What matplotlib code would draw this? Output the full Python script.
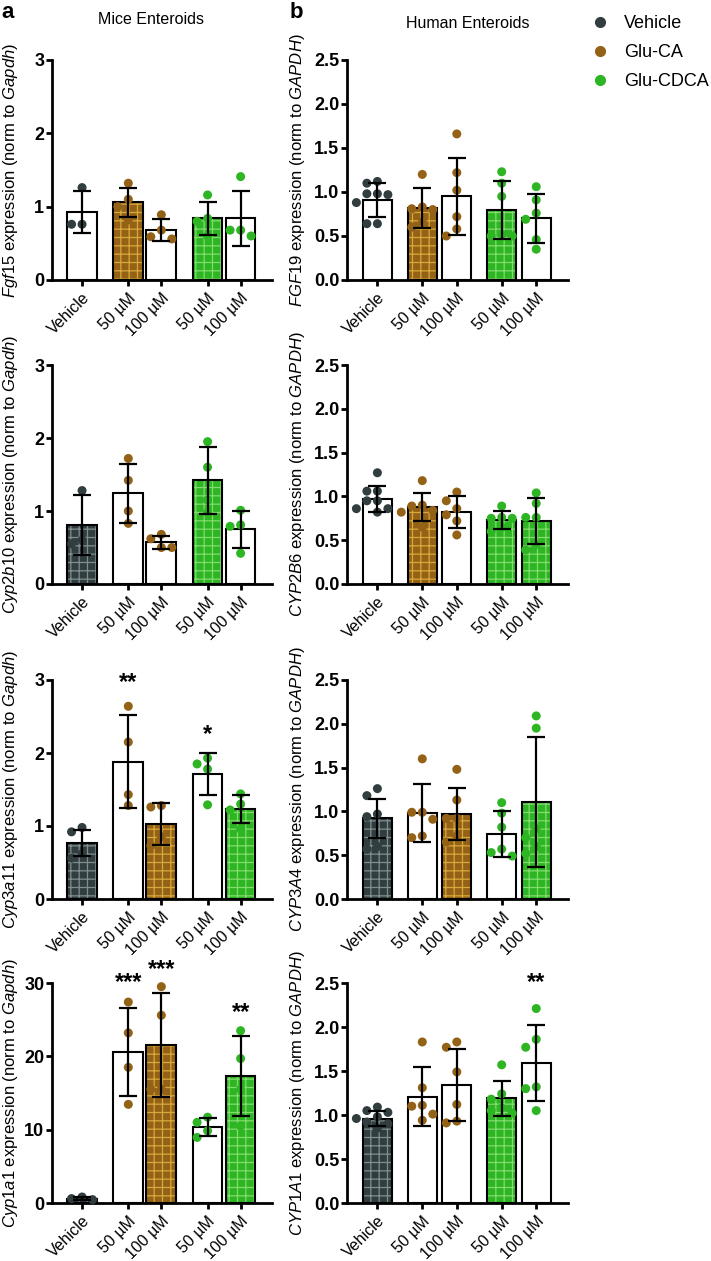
import matplotlib
matplotlib.use("Agg")
import matplotlib.pyplot as plt
from matplotlib.lines import Line2D
from matplotlib.ticker import FormatStrFormatter
import numpy as np

plt.rcParams['font.family'] = ['Liberation Sans', 'DejaVu Sans']
plt.rcParams['mathtext.fontset'] = 'custom'
plt.rcParams['mathtext.rm'] = 'Liberation Sans'
plt.rcParams['mathtext.it'] = 'Liberation Sans:italic'
plt.rcParams['hatch.linewidth'] = 0.9

# colours: point/bar colour and lighter grid colour for the hatched bars
colors = {'Vehicle': '#313d3f', 'Glu-CA': '#946217', 'Glu-CDCA': '#2db523'}
grid_colors = {'Vehicle': '#7f8e8e', 'Glu-CA': '#d9a83a', 'Glu-CDCA': '#82dc6e'}

tick_labels = ['Vehicle', '50 µM', '100 µM', '50 µM', '100 µM']
groups = ['Vehicle', 'Glu-CA', 'Glu-CA', 'Glu-CDCA', 'Glu-CDCA']

# ---- mice enteroids ----
fgf15_mean = [0.93, 1.06, 0.68, 0.84, 0.84]
fgf15_sd = [0.29, 0.20, 0.15, 0.22, 0.38]
fgf15_pts = [[1.26, 0.76, 0.76], [1.32, 1.10, 1.00, 0.82], [0.89, 0.68, 0.56, 0.59],
             [1.16, 0.84, 0.80, 0.60], [1.41, 0.68, 0.60, 0.68]]
fgf15_fill = [0, 1, 0, 1, 0]
fgf15_stars = ['', '', '', '', '']
fgf15_star_y = [0, 0, 0, 0, 0]

cyp2b10_mean = [0.81, 1.24, 0.57, 1.42, 0.75]
cyp2b10_sd = [0.41, 0.41, 0.09, 0.46, 0.25]
cyp2b10_pts = [[1.28, 0.60, 0.55], [1.72, 1.42, 1.00, 0.83], [0.62, 0.50, 0.68, 0.50],
               [1.95, 1.60, 1.15, 0.98], [1.01, 0.81, 0.79, 0.42]]
cyp2b10_fill = [1, 0, 0, 1, 0]
cyp2b10_stars = ['', '', '', '', '']
cyp2b10_star_y = [0, 0, 0, 0, 0]

cyp3a11_mean = [0.77, 1.88, 1.03, 1.71, 1.23]
cyp3a11_sd = [0.18, 0.64, 0.29, 0.29, 0.19]
cyp3a11_pts = [[0.98, 0.92, 0.62, 0.56], [2.64, 2.15, 1.43, 1.28], [1.26, 1.28, 0.85, 0.73],
               [1.93, 1.85, 1.78, 1.29], [1.44, 1.30, 1.22, 0.96]]
cyp3a11_fill = [1, 0, 1, 0, 1]
cyp3a11_stars = ['', '**', '', '*', '']
cyp3a11_star_y = [0, 2.97, 0, 2.26, 0]

cyp1a1_mean = [0.6, 20.6, 21.5, 10.35, 17.3]
cyp1a1_sd = [0.18, 6.0, 7.1, 1.2, 5.5]
cyp1a1_pts = [[0.46, 0.82, 0.60], [27.4, 23.2, 18.5, 13.45], [29.5, 25.6, 15.5, 15.5],
              [11.0, 11.7, 9.85, 8.94], [23.5, 19.7, 15.5, 10.5]]
cyp1a1_fill = [1, 0, 1, 0, 1]
cyp1a1_stars = ['', '***', '***', '', '**']
cyp1a1_star_y = [0, 30.0, 31.8, 0, 26.0]

# ---- human enteroids ----
fgf19_mean = [0.91, 0.82, 0.95, 0.80, 0.70]
fgf19_sd = [0.19, 0.23, 0.44, 0.33, 0.28]
fgf19_pts = [[1.12, 1.10, 0.98, 0.98, 0.97, 0.88, 0.64, 0.64],
             [1.20, 0.83, 0.81, 0.80, 0.60, 0.66],
             [1.66, 1.22, 1.02, 0.72, 0.58, 0.50],
             [1.23, 1.10, 0.95, 0.50, 0.50, 0.52],
             [1.06, 0.91, 0.76, 0.69, 0.46, 0.35]]
fgf19_fill = [0, 1, 0, 1, 0]
fgf19_stars = ['', '', '', '', '']
fgf19_star_y = [0, 0, 0, 0, 0]

cyp2b6_mean = [0.97, 0.88, 0.82, 0.73, 0.72]
cyp2b6_sd = [0.15, 0.16, 0.18, 0.10, 0.26]
cyp2b6_pts = [[1.27, 1.06, 1.06, 0.95, 0.95, 0.86, 0.86, 0.82],
              [1.18, 0.90, 0.89, 0.84, 0.82, 0.65],
              [1.05, 0.95, 0.86, 0.79, 0.72, 0.56],
              [0.89, 0.76, 0.75, 0.75, 0.65, 0.60],
              [1.04, 0.92, 0.76, 0.76, 0.45, 0.39]]
cyp2b6_fill = [0, 1, 0, 1, 1]
cyp2b6_stars = ['', '', '', '', '']
cyp2b6_star_y = [0, 0, 0, 0, 0]

cyp3a4_mean = [0.92, 0.98, 0.97, 0.74, 1.11]
cyp3a4_sd = [0.22, 0.33, 0.30, 0.26, 0.74]
cyp3a4_pts = [[1.26, 1.18, 0.97, 0.94, 0.60, 0.57],
              [1.60, 0.99, 0.99, 0.91, 0.72, 0.70],
              [1.48, 1.13, 0.92, 0.92, 0.72, 0.65],
              [1.10, 0.98, 0.82, 0.57, 0.49, 0.53],
              [2.09, 1.95, 0.80, 0.70, 0.60, 0.52]]
cyp3a4_fill = [1, 0, 1, 0, 1]
cyp3a4_stars = ['', '', '', '', '']
cyp3a4_star_y = [0, 0, 0, 0, 0]

cyp1a1h_mean = [0.96, 1.21, 1.34, 1.19, 1.59]
cyp1a1h_sd = [0.08, 0.33, 0.41, 0.20, 0.43]
cyp1a1h_pts = [[1.09, 1.05, 1.03, 0.98, 0.96, 0.92, 0.90, 0.85],
               [1.83, 1.31, 1.11, 1.10, 1.01, 0.94],
               [1.83, 1.77, 1.49, 1.12, 0.93, 0.91],
               [1.57, 1.24, 1.18, 1.08, 1.05, 1.02],
               [2.21, 1.86, 1.77, 1.32, 1.30, 1.05]]
cyp1a1h_fill = [1, 0, 0, 1, 0]
cyp1a1h_stars = ['', '', '', '', '**']
cyp1a1h_star_y = [0, 0, 0, 0, 2.51]

left_panels = [
    ('Fgf15', fgf15_mean, fgf15_sd, fgf15_pts, fgf15_fill, fgf15_stars, fgf15_star_y),
    ('Cyp2b10', cyp2b10_mean, cyp2b10_sd, cyp2b10_pts, cyp2b10_fill, cyp2b10_stars, cyp2b10_star_y),
    ('Cyp3a11', cyp3a11_mean, cyp3a11_sd, cyp3a11_pts, cyp3a11_fill, cyp3a11_stars, cyp3a11_star_y),
    ('Cyp1a1', cyp1a1_mean, cyp1a1_sd, cyp1a1_pts, cyp1a1_fill, cyp1a1_stars, cyp1a1_star_y),
]
right_panels = [
    ('FGF19', fgf19_mean, fgf19_sd, fgf19_pts, fgf19_fill, fgf19_stars, fgf19_star_y),
    ('CYP2B6', cyp2b6_mean, cyp2b6_sd, cyp2b6_pts, cyp2b6_fill, cyp2b6_stars, cyp2b6_star_y),
    ('CYP3A4', cyp3a4_mean, cyp3a4_sd, cyp3a4_pts, cyp3a4_fill, cyp3a4_stars, cyp3a4_star_y),
    ('CYP1A1', cyp1a1h_mean, cyp1a1h_sd, cyp1a1h_pts, cyp1a1h_fill, cyp1a1h_stars, cyp1a1h_star_y),
]

W, H = 711, 1261
fig = plt.figure(figsize=(W / 100, H / 100), dpi=100)

row_top = [60, 365, 680, 983]
row_bot = [280, 584, 899, 1203]


def swarm_x(ax, xc, vals, diam=9.0, step=10.5):
    """spread overlapping points sideways, like Prism does"""
    fwd = ax.transData.transform
    inv = ax.transData.inverted().transform
    placed = []
    out = {}
    order = np.argsort(vals)[::-1]
    for i in order:
        x0, y0 = fwd((xc, vals[i]))
        for k in [0, -1, 1, -2, 2, -3, 3]:
            xp = x0 + k * step
            if all((xp - a) ** 2 + (y0 - b) ** 2 >= diam ** 2 for a, b in placed):
                break
        placed.append((xp, y0))
        out[i] = inv((xp, y0))[0]
    return [out[i] for i in range(len(vals))]


def draw_panel(ax, gene, ref, mean, sd, pts, fill, stars, star_y, xpos, width, ylim, yticks, fmt):
    ax.set_xlim(xpos[0] - width / 2 - 0.46, xpos[-1] + width / 2 + 0.5)
    ax.set_ylim(*ylim)
    for i in range(5):
        g = groups[i]
        if fill[i]:
            ax.bar(xpos[i], mean[i], width, color=colors[g], edgecolor=grid_colors[g],
                   linewidth=0, hatch='++', zorder=1)
            ax.bar(xpos[i], mean[i], width, facecolor='none', edgecolor='black',
                   linewidth=1.5, zorder=2)
        else:
            ax.bar(xpos[i], mean[i], width, facecolor='white', edgecolor='black',
                   linewidth=1.5, zorder=2)
        xs = swarm_x(ax, xpos[i], pts[i])
        ax.scatter(xs, pts[i], s=42, color=colors[g], edgecolors='none', zorder=3,
                   clip_on=False)
        ax.errorbar(xpos[i], mean[i], yerr=sd[i], fmt='none', ecolor='black',
                    elinewidth=1.6, capsize=6.5, capthick=1.6, zorder=4)
        if stars[i]:
            ax.text(xpos[i], star_y[i], stars[i], ha='center', va='center',
                    fontsize=17, fontweight='bold', clip_on=False)
    ax.spines['top'].set_visible(False)
    ax.spines['right'].set_visible(False)
    ax.spines['left'].set_linewidth(2)
    ax.spines['bottom'].set_linewidth(2)
    ax.set_xticks(xpos)
    ax.set_xticklabels(tick_labels, rotation=45, ha='right', rotation_mode='anchor',
                       fontsize=11.5)
    ax.set_yticks(yticks)
    ax.yaxis.set_major_formatter(FormatStrFormatter(fmt))
    ax.tick_params(axis='both', width=2, length=4)
    ax.tick_params(axis='x', pad=3.5)
    ax.tick_params(axis='y', pad=1.5)
    for lab in ax.get_yticklabels():
        lab.set_fontweight('bold')
        lab.set_fontsize(13)
    ax.set_ylabel(r'$\mathit{%s}$ expression (norm to $\mathit{%s}$)' % (gene, ref),
                  fontsize=12)


left_x = [0, 1.4, 2.4, 3.8, 4.8]
right_x = [0, 1.3, 2.3, 3.6, 4.6]

for r in range(4):
    b = 1 - row_bot[r] / H
    h = (row_bot[r] - row_top[r]) / H
    axl = fig.add_axes([52 / W, b, 220 / W, h])
    gene, mean, sd, pts, fill, stars, sy = left_panels[r]
    if r == 3:
        draw_panel(axl, gene, 'Gapdh', mean, sd, pts, fill, stars, sy, left_x, 0.9,
                   (0, 30), [0, 10, 20, 30], '%d')
    else:
        draw_panel(axl, gene, 'Gapdh', mean, sd, pts, fill, stars, sy, left_x, 0.9,
                   (0, 3), [0, 1, 2, 3], '%d')
    axl.yaxis.set_label_coords(-0.145, 0.5)

    axr = fig.add_axes([347 / W, b, 221 / W, h])
    gene, mean, sd, pts, fill, stars, sy = right_panels[r]
    draw_panel(axr, gene, 'GAPDH', mean, sd, pts, fill, stars, sy, right_x, 0.84,
               (0, 2.5), np.arange(0, 2.51, 0.5), '%.1f')
    axr.yaxis.set_label_coords(-0.18, 0.5)

fig.text(151 / W, 1 - 20 / H, 'Mice Enteroids', ha='center', va='center', fontsize=11.5)
fig.text(468 / W, 1 - 24 / H, 'Human Enteroids', ha='center', va='center', fontsize=11.5)
fig.text(1 / W, 1 - 18 / H, 'a', fontsize=16, fontweight='bold', va='baseline')
fig.text(290 / W, 1 - 18 / H, 'b', fontsize=16, fontweight='bold', va='baseline')

handles = [Line2D([], [], marker='o', ls='', color=colors[k], markersize=7) for k in colors]
fig.legend(handles, list(colors), loc='upper left', bbox_to_anchor=(575 / W, 1 + 1 / H),
           frameon=False, fontsize=13, handlelength=1.0, handletextpad=0.8,
           labelspacing=0.67)

fig.savefig('out.png', dpi=100)
